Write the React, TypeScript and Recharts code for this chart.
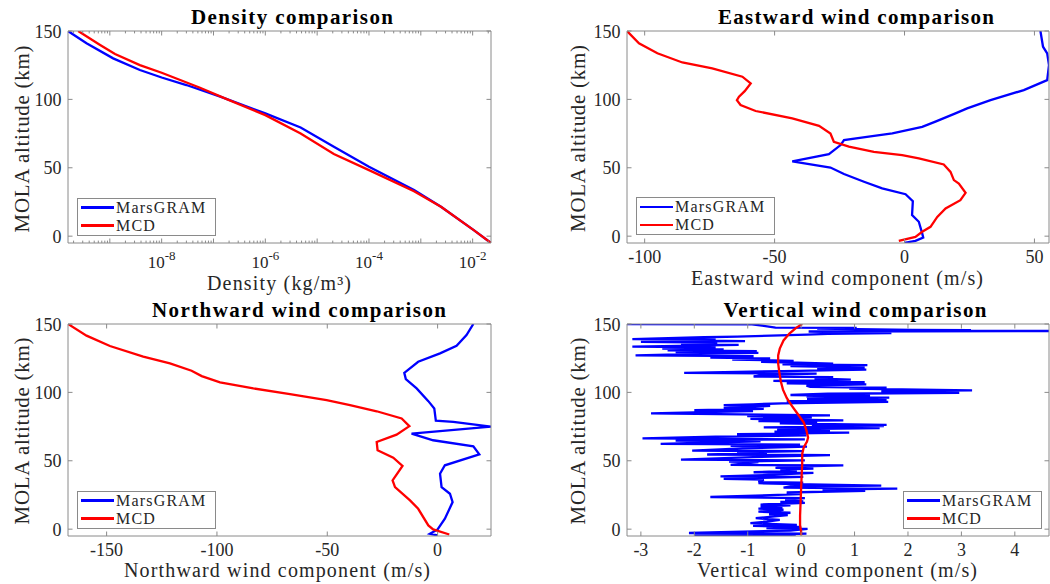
import React from 'react';
import { LineChart, Line, XAxis, YAxis, Legend, ReferenceLine } from 'recharts';

type Pt = [number, number]; // [altitude km, value]

const FONT = '"Liberation Serif", "Times New Roman", serif';
const TEXT = '#262626';
const BOX = '#8a8a8a';
const BLUE = '#0000ff';
const RED = '#ff0000';

const seriesNames = ['MarsGRAM', 'MCD'];

const altTicks = [0, 50, 100, 150];
const altTickLabels = ['0', '50', '100', '150'];
const altRange: [number, number] = [-5, 150];

// ---------- Density ----------
const densityTicks = [1e-8, 1e-6, 1e-4, 1e-2];
const densityTickExponents = ['-8', '-6', '-4', '-2'];
const densityGRAM: Pt[] = [
  [150, 1.56e-10], [141, 3.55e-10], [130, 1.16e-9], [121.5, 3.8e-9], [116, 1.0e-8],
  [110.5, 3.0e-8], [102, 1.35e-7], [89.8, 1.0e-6], [79.5, 4.8e-6], [65.4, 2.1e-5],
  [50.7, 1.0e-4], [33.7, 7.4e-4], [21.5, 2.45e-3], [4.4, 1.05e-2], [-5, 2.26e-2],
];
const densityMCD: Pt[] = [
  [150, 2.45e-10], [139.8, 6.5e-10], [133.2, 1.26e-9], [125.1, 3.8e-9], [119.5, 1.0e-8],
  [108.5, 5.5e-8], [100.2, 1.8e-7], [88.5, 1.0e-6], [75.1, 4.8e-6], [60, 2.1e-5],
  [48.3, 1.0e-4], [32.9, 7.4e-4], [21.5, 2.45e-3], [4.4, 1.05e-2], [-5, 2.26e-2],
];

// ---------- Eastward ----------
const eastTicks = [-100, -50, 0, 50];
const eastTickLabels = ['-100', '-50', '0', '50'];
const eastGRAM: Pt[] = [
  [150, 52.3], [138.5, 53.3], [133.7, 54.9], [125.1, 55.6], [114.1, 54.9], [106.8, 45.9],
  [99.5, 33.1], [93.4, 24.1], [89.8, 19.6], [83.7, 11.9], [79.9, 6.8], [75.1, -4.7],
  [73.2, -12.4], [70.2, -23.3], [66.6, -24.6], [60, -29.1], [54.6, -43.2], [50.2, -28.5],
  [45.4, -23.3], [39.8, -15.6], [34.9, -8.6], [30.7, 0.4], [25.6, 3.2], [15.4, 2.9],
  [10.5, 5.5], [2, 6.8], [-1, 7.2], [-3.4, 4.2], [-4.9, 0],
];
const eastMCD: Pt[] = [
  [150, -106.8], [141, -102.2], [133.7, -95.1], [127, -85.5], [122.7, -74], [116.6, -62.4],
  [111.7, -59.2], [106, -61.5], [102, -63.7], [99.5, -64.5], [95.9, -63.1], [91.5, -57.3],
  [86.1, -43.2], [80.7, -32.9], [75.1, -28.5], [69, -27.2], [65.4, -21.4], [61.7, -11.8],
  [59.3, -0.9], [56.8, 5.5], [52.4, 15.1], [47, 17.7], [41, 19], [38.5, 20.9], [31.7, 23.5],
  [26.3, 21.5], [20.2, 15.8], [14.1, 12.6], [6.8, 10], [3.2, 6.8], [-0.5, 4.2], [-3.4, -2.2],
];

// ---------- Northward ----------
const northTicks = [-150, -100, -50, 0];
const northTickLabels = ['-150', '-100', '-50', '0'];
const northGRAM: Pt[] = [
  [150, 16.2], [141.9, 13.1], [134.1, 8.6], [128.5, 1.1], [122.4, -8.8], [114.3, -15.1],
  [109.7, -14.4], [102.9, -9.5], [93.6, -4.2], [88.2, -1.5], [79.4, -0.8], [78.4, 7.1],
  [75, 24.2], [69.9, -11.8], [65, -2], [60.6, 16.2], [54.7, 18.9], [46.7, 3.3], [40.6, 1.1],
  [30.8, 1.8], [25.9, 5.6], [19.8, 6.8], [7.6, 3.3], [-0.2, 0], [-3.4, -3.5], [-4.6, 0],
];
const northMCD: Pt[] = [
  [150, -167.5], [141.5, -159.1], [133.9, -148.5], [126.1, -133.4], [121.2, -121.3],
  [115.8, -111.5], [111.9, -106.9], [107.3, -98.6], [102.9, -83.5], [98.7, -66.9],
  [94.3, -50.3], [90.6, -39.7], [86.2, -27.6], [80.9, -16.3], [75.3, -12.8], [69.1, -18.6],
  [63.8, -27.6], [57.7, -27.2], [52.3, -20.1], [46.2, -15.9], [35.7, -20.4], [30.8, -19.3],
  [21, -12.5], [14.9, -8.8], [2.7, -4.2], [-0.2, -2], [-3.9, 5.3],
];

// ---------- Vertical ----------
const vertTicks = [-3, -2, -1, 0, 1, 2, 3, 4];
const vertTickLabels = ['-3', '-2', '-1', '0', '1', '2', '3', '4'];
const vertGRAM: Pt[] = [
  [150, -3.26], [149.8, -0.92], [147.4, -0.48], [147.1, 1.04], [146.6, 0.3], [146.2, 1.04],
  [145.7, 2.09], [145.5, 3.18], [145.2, 2.3], [144.9, 4.64], [144.5, 0.14], [143.4, 1.69],
  [142.8, 0.5], [142.2, 0.11], [140.8, -1.2], [140.3, -1.82], [139, -3.16], [138.6, -1.6],
  [138, -2.2], [137.5, -1.05], [137, -3.0], [136.4, -1.57], [135.6, -2.25], [134.8, -1.17],
  [134.2, -2.0], [133.5, -3.16], [132.9, -1.6], [132.1, -2.6], [131.5, -1.45], [130.7, -2.5],
  [130.2, -0.83], [129.4, -2.35], [128.9, -0.8], [128.1, -1.9], [127, -3.1], [126.5, -0.89],
  [125.4, -1.7], [124.8, -0.58], [124, -1.29], [123.1, -0.14], [122.4, -0.75], [121.1, 0.6],
  [120.5, -0.35], [119.9, 1.24], [119.3, -0.2], [118.2, 1.19], [117.6, 0.3], [116.7, 1.22],
  [115.6, -0.33], [114.3, -2.19], [113.7, 0.29], [112.9, -0.7], [111.6, -0.89], [111.2, 0.6],
  [110.2, 0.25], [109.3, 0.93], [108.4, -0.52], [107.4, 1.19], [106.6, -0.27], [105.9, 1.22],
  [105, 0.1], [104, 0.17], [103.4, 1.6], [102.7, 0.9], [101.4, 3.2], [100.9, 1.5],
  [99.7, 2.96], [99, 0.5], [98.1, -0.2], [97.5, 1.29], [96.9, 0.1], [96.2, 1.65],
  [95.1, 0.11], [94.5, 1.6], [93.6, -0.27], [93, 1.63], [92, -0.36], [91.3, -0.9],
  [90.7, -1.45], [90.2, -0.58], [89.4, -0.95], [88.6, -1.45], [88, -0.7], [87.1, -2.0],
  [86.4, -0.9], [85.7, -1.6], [84.6, -2.81], [83.2, 0.54], [82.6, -1.01], [81.8, 0.2],
  [81.1, -0.5], [80.6, -0.95], [79.6, 0.79], [79, -0.8], [78.5, 0.3], [77.4, -0.4],
  [76.3, 1.6], [75.9, 0.2], [75.3, 1.55], [74.4, -0.7], [73.8, 1.47], [73, -0.45],
  [72, 0.54], [71.3, -0.5], [70.6, 0.9], [69.4, -1.2], [68.5, 0.1], [67.6, -1.6],
  [66.4, -2.97], [65.7, 0.07], [64.8, -2.35], [64.2, -0.76], [63.2, -1.8], [62.3, -2.63],
  [61.8, -0.02], [61, -1.32], [60.4, 0.11], [59.1, -1.1], [57.4, -2.04], [57, 0.04],
  [56.2, -1.2], [55.6, -0.64], [54.6, -1.76], [54.2, 0.54], [52.6, -0.9], [50.8, -2.25],
  [50.3, 0.07], [49.4, -1.35], [49, -0.8], [47, -1.32], [46.6, 0.79], [45.5, -0.3],
  [44.8, -0.48], [44.2, 0.23], [43.6, -0.39], [42.8, -0.08], [41.6, -0.89], [41.2, 0.23],
  [39.8, -0.5], [38.6, -1.51], [38.2, 0.04], [36.8, -1.45], [36.2, -0.7], [34.4, -0.8],
  [34, 0.04], [33.6, -0.8], [33, -0.1], [31.8, 1.5], [31.2, -0.2], [30.4, -0.33],
  [29.7, 1.8], [28.9, 0.4], [28, 1.2], [26.8, -0.27], [25.6, 0.0], [23.5, -1.7],
  [22.7, 0.07], [21.6, -0.3], [20.3, 0.04], [20, -0.39], [19.2, 0.07], [18, -0.76],
  [17.4, -0.2], [16.6, -0.76], [15.8, -0.35], [15, -0.8], [14.2, -0.33], [12.8, -0.8],
  [12, -0.2], [10.8, -0.6], [10.2, -0.25], [8, -0.85], [6.8, -0.4], [5.6, -0.64],
  [4.4, -0.95], [3.2, -0.08], [2.4, -0.9], [1.6, 0.0], [0.8, -0.65], [0.2, 0.12],
  [-1, -0.2], [-2.8, -2.1], [-3.3, 0.1], [-4, -0.5], [-4.5, -2.0], [-5, -0.1],
];
const vertMCD: Pt[] = [
  [150, 0.02], [147, -0.1], [143, -0.22], [138, -0.33], [132, -0.4], [127, -0.43],
  [121, -0.43], [115, -0.41], [108, -0.38], [102, -0.34], [96, -0.27], [90, -0.17],
  [84, -0.06], [78, 0.05], [72, 0.1], [67, 0.13], [64, 0.11], [60, 0.05], [55, 0.02],
  [48, 0.02], [40, 0.01], [30, 0.0], [20, -0.01], [10, -0.02], [3, -0.02], [-2, 0.0], [-4.5, 0.0],
];

// ---------- helpers ----------
const toRows = (pts: Pt[]) => pts.map(([alt, v]) => ({ alt, v }));
const extent = (a: Pt[], b: Pt[]): [number, number] => {
  const vals = [...a, ...b].map((p) => p[1]);
  return [Math.min(...vals), Math.max(...vals)];
};

const CW = 525;
const CH = 292;
const YW = 10;
const XH = 10;
const LW = 2.3;

type Box = { l: number; t: number; r: number; b: number };

const renderLegend = (props: any) => {
  const items = ([...(props.payload || [])] as any[]).sort(
    (a, b) => seriesNames.indexOf(a.value) - seriesNames.indexOf(b.value),
  );
  return (
    <div
      style={{
        border: `1px solid ${BOX}`,
        background: '#fff',
        width: 139,
        height: 38,
        boxSizing: 'border-box',
        padding: '0 0 0 3px',
        fontFamily: FONT,
        fontSize: 16,
        letterSpacing: 1.2,
        color: TEXT,
      }}
    >
      {items.map((e) => (
        <div key={e.value} style={{ display: 'flex', alignItems: 'center', height: 18, lineHeight: '18px', whiteSpace: 'nowrap' }}>
          <span style={{ display: 'inline-block', width: 33, height: LW, background: e.color, marginRight: 2 }} />
          <span>{e.value}</span>
        </div>
      ))}
    </div>
  );
};

type PanelProps = {
  ox: number;
  oy: number;
  box: Box;
  log?: boolean;
  labeledTicks: number[];
  tickLabels: string[];
  allTicks?: number[];
  gram: Pt[];
  mcd: Pt[];
  legendLeft: number;
  legendTop: number;
};

function Panel(p: PanelProps) {
  const { l, t, r, b } = p.box;
  const domain = extent(p.gram, p.mcd);
  const ticks = p.allTicks || p.labeledTicks;
  const decade = (v: number) => {
    if (!p.log) return true;
    const lg = Math.log10(v);
    return Math.abs(lg - Math.round(lg)) < 1e-6;
  };
  const xTick = (tp: any) => {
    const v = tp.payload.value as number;
    const x = tp.x as number;
    const len = decade(v) ? 4.5 : 2.4;
    const idx = p.labeledTicks.findIndex((q) => Math.abs(q - v) <= Math.abs(q) * 1e-6 + 1e-12);
    let label: React.ReactNode = null;
    if (idx >= 0) {
      label = p.log ? (
        <text x={x} y={b + 25} textAnchor="middle" fontFamily={FONT} fontSize={17} fill={TEXT}>
          <tspan>10</tspan>
          <tspan dy={-8} fontSize={13}>{p.tickLabels[idx]}</tspan>
        </text>
      ) : (
        <text x={x} y={b + 20} textAnchor="middle" fontFamily={FONT} fontSize={18} fill={TEXT}>
          {p.tickLabels[idx]}
        </text>
      );
    }
    return (
      <g>
        <line x1={x} x2={x} y1={b} y2={b - len} stroke={BOX} strokeWidth={1} />
        <line x1={x} x2={x} y1={t} y2={t + len} stroke={BOX} strokeWidth={1} />
        {label}
      </g>
    );
  };
  const yTick = (tp: any) => {
    const y = tp.y as number;
    const idx = altTicks.indexOf(tp.payload.value);
    return (
      <g>
        <line x1={l} x2={l + 4.5} y1={y} y2={y} stroke={BOX} strokeWidth={1} />
        <line x1={r} x2={r - 4.5} y1={y} y2={y} stroke={BOX} strokeWidth={1} />
        <text x={l - 6.5} y={y + 6.5} textAnchor="end" fontFamily={FONT} fontSize={18} fill={TEXT}>
          {altTickLabels[idx]}
        </text>
      </g>
    );
  };
  return (
    <div style={{ position: 'absolute', left: p.ox, top: p.oy, width: CW, height: CH }}>
      <LineChart
        width={CW}
        height={CH}
        layout="vertical"
        margin={{ top: t, left: l - YW, right: CW - r, bottom: CH - b - XH }}
      >
        <XAxis
          type="number"
          dataKey="v"
          scale={p.log ? 'log' : 'linear'}
          domain={domain}
          allowDataOverflow
          ticks={ticks}
          interval={0}
          tick={xTick}
          tickLine={false}
          tickSize={0}
          tickMargin={0}
          height={XH}
          axisLine={{ stroke: BOX, strokeWidth: 1 }}
        />
        <YAxis
          type="number"
          dataKey="alt"
          domain={altRange}
          allowDataOverflow
          reversed
          ticks={altTicks}
          interval={0}
          tick={yTick}
          tickLine={false}
          tickSize={0}
          tickMargin={0}
          width={YW}
          axisLine={{ stroke: BOX, strokeWidth: 1 }}
        />
        <Line
          data={toRows(p.gram)}
          dataKey="v"
          name={seriesNames[0]}
          type="linear"
          stroke={BLUE}
          strokeWidth={LW}
          dot={false}
          activeDot={false}
          isAnimationActive={false}
        />
        <Line
          data={toRows(p.mcd)}
          dataKey="v"
          name={seriesNames[1]}
          type="linear"
          stroke={RED}
          strokeWidth={LW}
          dot={false}
          activeDot={false}
          isAnimationActive={false}
        />
        <ReferenceLine y={altRange[1]} stroke={BOX} strokeWidth={1} ifOverflow="visible" />
        <ReferenceLine x={domain[1]} stroke={BOX} strokeWidth={1} ifOverflow="visible" />
        <Legend
          layout="horizontal"
          verticalAlign="middle"
          align="center"
          wrapperStyle={{ left: p.legendLeft, top: p.legendTop, width: 139, height: 38 }}
          content={renderLegend}
        />
      </LineChart>
    </div>
  );
}

// log-axis tick marks (decades and 2..9 multiples) within the density range
const densityDomain = extent(densityGRAM, densityMCD);
const densityAllTicks: number[] = [];
for (let k = -10; k <= -2; k++) {
  for (let m = 1; m <= 9; m++) {
    const v = Number((m * Math.pow(10, k)).toPrecision(3));
    if (v >= densityDomain[0] && v <= densityDomain[1]) densityAllTicks.push(v);
  }
}

const titles = [
  { text: 'Density comparison', x: 292, y: 24, w: 202 },
  { text: 'Eastward wind comparison', x: 856, y: 24, w: 276 },
  { text: 'Northward wind comparison', x: 299, y: 317, w: 294 },
  { text: 'Vertical wind comparison', x: 855, y: 317, w: 263 },
];
const xLabels = [
  { text: 'Density (kg/m³)', x: 279, y: 290, w: 144 },
  { text: 'Eastward wind component (m/s)', x: 837, y: 284.5, w: 292 },
  { text: 'Northward wind component (m/s)', x: 277, y: 576.5, w: 306 },
  { text: 'Vertical wind component (m/s)', x: 837, y: 576.5, w: 280 },
];
const yLabelText = 'MOLA altitude (km)';
const yLabels = [
  { x: 29, y: 139 },
  { x: 584.5, y: 138.5 },
  { x: 28.5, y: 431 },
  { x: 584.5, y: 431 },
];

export default function App() {
  const topBox: Box = { l: 68, t: 31, r: 491, b: 243 };
  const topBoxR: Box = { l: 102, t: 31, r: 524, b: 243 };
  const botBox: Box = { l: 68, t: 32, r: 491, b: 244 };
  const botBoxR: Box = { l: 102, t: 32, r: 524, b: 244 };
  return (
    <div style={{ position: 'absolute', left: 0, top: 0, width: 1050, height: 584, background: '#fff', overflow: 'hidden' }}>
      <Panel ox={0} oy={0} box={topBox} log labeledTicks={densityTicks} tickLabels={densityTickExponents}
        allTicks={densityAllTicks} gram={densityGRAM} mcd={densityMCD} legendLeft={77} legendTop={197.5} />
      <Panel ox={525} oy={0} box={topBoxR} labeledTicks={eastTicks} tickLabels={eastTickLabels}
        gram={eastGRAM} mcd={eastMCD} legendLeft={111} legendTop={197} />
      <Panel ox={0} oy={292} box={botBox} labeledTicks={northTicks} tickLabels={northTickLabels}
        gram={northGRAM} mcd={northMCD} legendLeft={77} legendTop={198.5} />
      <Panel ox={525} oy={292} box={botBoxR} labeledTicks={vertTicks} tickLabels={vertTickLabels}
        gram={vertGRAM} mcd={vertMCD} legendLeft={378} legendTop={198.5} />
      <svg width={1050} height={584} style={{ position: 'absolute', left: 0, top: 0, pointerEvents: 'none' }}>
        {titles.map((tt) => (
          <text key={tt.text} x={tt.x} y={tt.y} textAnchor="middle" fontFamily={FONT} fontSize={21}
            fontWeight="bold" fill="#000" textLength={tt.w} lengthAdjust="spacing">
            {tt.text}
          </text>
        ))}
        {xLabels.map((tt) => (
          <text key={tt.text} x={tt.x} y={tt.y} textAnchor="middle" fontFamily={FONT} fontSize={20}
            fill={TEXT} textLength={tt.w} lengthAdjust="spacing">
            {tt.text}
          </text>
        ))}
        {yLabels.map((tt, i) => (
          <text key={i} transform={`translate(${tt.x},${tt.y}) rotate(-90)`} textAnchor="middle"
            fontFamily={FONT} fontSize={21} fill={TEXT} textLength={187} lengthAdjust="spacing">
            {yLabelText}
          </text>
        ))}
      </svg>
    </div>
  );
}
